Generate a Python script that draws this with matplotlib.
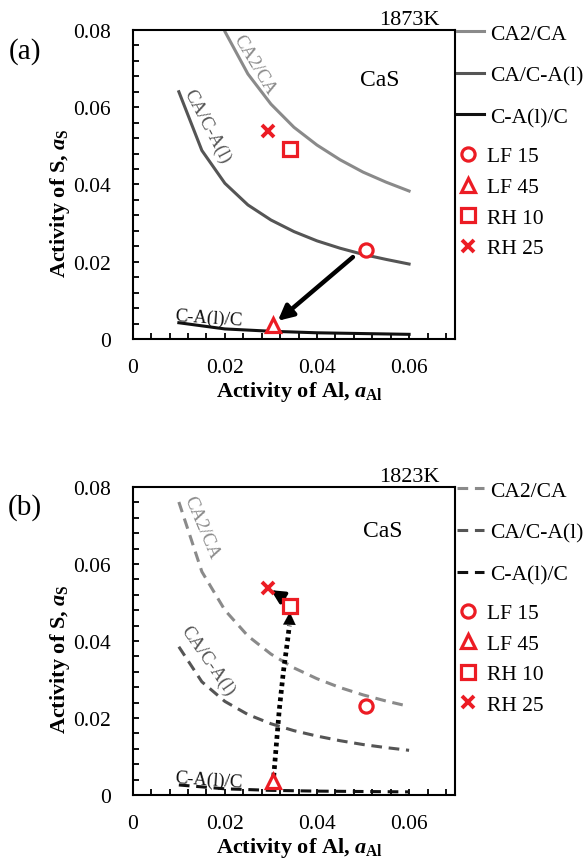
import matplotlib
matplotlib.use("Agg")
import matplotlib.pyplot as plt
from matplotlib.ticker import MultipleLocator, FixedLocator

# fonts: Times-like serif everywhere
plt.rcParams["font.family"] = "Liberation Serif"
plt.rcParams["mathtext.fontset"] = "custom"
plt.rcParams["mathtext.rm"] = "Liberation Serif:bold"
plt.rcParams["mathtext.it"] = "Liberation Serif:italic:bold"
plt.rcParams["mathtext.bf"] = "Liberation Serif:bold"

# 1. Data
x_curve = [0.01, 0.015, 0.02, 0.025, 0.03, 0.035, 0.04, 0.045, 0.05, 0.055, 0.06]
x_low = [0.01, 0.02, 0.03, 0.04, 0.05, 0.06]

# 1873K
ca2_ca_1873 = [0.126, 0.0965, 0.0796, 0.0686, 0.0608, 0.0548, 0.0502, 0.0464, 0.0432, 0.0406, 0.0383]
ca_cal_1873 = [0.064, 0.0488, 0.0403, 0.0347, 0.0308, 0.0278, 0.0254, 0.0235, 0.0219, 0.0206, 0.0194]
cal_c_1873 = [0.0042, 0.0026, 0.0020, 0.0016, 0.0014, 0.0012]

# 1823K
ca2_ca_1823 = [0.0761, 0.058, 0.048, 0.0413, 0.0366, 0.033, 0.0302, 0.0279, 0.026, 0.0244, 0.0230]
ca_cal_1823 = [0.0385, 0.0294, 0.0243, 0.0209, 0.0185, 0.0167, 0.0153, 0.0141, 0.0131, 0.0123, 0.0116]
cal_c_1823 = [0.0026, 0.0016, 0.0012, 0.0010, 0.0009, 0.0008]

# sample points (same in both panels)
sample_names = ["LF 15", "LF 45", "RH 10", "RH 25"]
sample_markers = ["o", "^", "s", "x"]
sample_al = [0.0507, 0.0305, 0.0342, 0.0293]
sample_s = [0.0231, 0.0035, 0.0492, 0.0538]

# path arrows
arrow_a_start = (0.0478, 0.0212)
arrow_a_end = (0.0315, 0.0047)
dotted_path_al = [0.0306, 0.0311, 0.0318, 0.0327, 0.0336, 0.0340]
dotted_path_s = [0.0048, 0.0120, 0.0220, 0.0320, 0.0400, 0.0440]
arrow_b2_start = (0.0343, 0.0500)
arrow_b2_end = (0.0300, 0.0532)

# 2. Styling
red = "#ec1c24"
col_ca2 = "#8a8a8a"
col_ca = "#555555"
col_c = "#111111"

fig = plt.figure(figsize=(5.85, 8.62), dpi=100)
ax_a = fig.add_axes([0.227, 0.6056, 0.551, 0.3585])
ax_b = fig.add_axes([0.227, 0.0766, 0.551, 0.3573])

panels = [
    {"ax": ax_a, "tag": "(a)", "temp": "1873K", "ls": "-",
     "curves": [ca2_ca_1873, ca_cal_1873], "low": cal_c_1873,
     "cas": (0.0537, 0.0673),
     "lab_ca2": (0.0264, 0.0712, -59), "lab_ca": (0.0162, 0.0552, -62),
     "lab_c": (0.0165, 0.0055, -4)},
    {"ax": ax_b, "tag": "(b)", "temp": "1823K", "ls": (0, (3.5, 2.2)),
     "curves": [ca2_ca_1823, ca_cal_1823], "low": cal_c_1823,
     "cas": (0.0543, 0.0686),
     "lab_ca2": (0.0148, 0.0696, -67), "lab_ca": (0.0162, 0.0350, -55),
     "lab_c": (0.0165, 0.0040, -4)},
]

for p in panels:
    ax = p["ax"]
    ls = p["ls"]
    l1, = ax.plot(x_curve, p["curves"][0], color=col_ca2, lw=2.2, ls=ls, label="CA2/CA")
    l2, = ax.plot(x_curve, p["curves"][1], color=col_ca, lw=2.2, ls=ls, label="CA/C-A(l)")
    l3, = ax.plot(x_low, p["low"], color=col_c, lw=2.2, ls=ls, label="C-A(l)/C")

    pts = []
    for name, m, xa, ys in zip(sample_names, sample_markers, sample_al, sample_s):
        if m == "x":
            h, = ax.plot(xa, ys, ls="none", marker=m, ms=8.5, mew=2.8, color=red, label=name, zorder=5)
        else:
            h, = ax.plot(xa, ys, ls="none", marker=m, ms=9.5, mew=2.3, mfc="white",
                         mec=red, label=name, zorder=5)
        pts.append(h)

    ax.set_xlim(0, 0.07)
    ax.set_ylim(0, 0.08)
    ax.xaxis.set_major_locator(FixedLocator([0, 0.02, 0.04, 0.06]))
    ax.yaxis.set_major_locator(MultipleLocator(0.02))
    ax.xaxis.set_minor_locator(MultipleLocator(0.004))
    ax.yaxis.set_minor_locator(MultipleLocator(0.004))
    ax.xaxis.set_major_formatter(lambda v, pos: "0" if v == 0 else f"{v:.2f}")
    ax.yaxis.set_major_formatter(lambda v, pos: "0" if v == 0 else f"{v:.2f}")
    ax.tick_params(which="both", direction="in", top=False, right=False,
                   width=1.3, labelsize=15.5)
    ax.tick_params(axis="x", which="both", pad=14)
    ax.tick_params(axis="y", which="both", pad=16)
    ax.tick_params(which="major", length=4)
    ax.tick_params(which="minor", length=4)
    for s in ax.spines.values():
        s.set_linewidth(1.5)

    ax.set_xlabel(r"Activity of Al, $a_{\mathrm{Al}}$", fontsize=16, fontweight="bold", va="center")
    ax.xaxis.set_label_coords(0.518, -0.168)
    ax.set_ylabel(r"Activity of S, $a_{\mathrm{S}}$", fontsize=16, fontweight="bold", va="center")
    ax.yaxis.set_label_coords(-0.227, 0.443)

    # region and boundary labels
    ax.text(*p["cas"], "CaS", fontsize=17, ha="center", va="center")
    x, y, r = p["lab_ca2"]
    ax.text(x, y, "CA2/CA", fontsize=13.5, color=col_ca2, rotation=r, ha="center", va="center")
    x, y, r = p["lab_ca"]
    ax.text(x, y, "CA/C-A(l)", fontsize=13.5, color=col_ca, rotation=r, ha="center", va="center")
    x, y, r = p["lab_c"]
    ax.text(x, y, "C-A(l)/C", fontsize=13.5, color=col_c, rotation=r, ha="center", va="center")

    ax.text(0.0667, 0.0802, p["temp"], fontsize=16, ha="right", va="bottom", clip_on=False)
    ax.text(-0.335, 0.935, p["tag"], fontsize=21, transform=ax.transAxes, ha="center", va="center")

    # legends outside on the right
    leg1 = ax.legend(handles=[l1, l2, l3], loc="upper left", bbox_to_anchor=(0.98, 1.048),
                     frameon=False, fontsize=15.5, handlelength=1.25, handletextpad=0.28,
                     labelspacing=1.0, borderaxespad=0)
    ax.add_artist(leg1)
    ax.legend(handles=pts, loc="upper left", bbox_to_anchor=(0.98, 0.651),
              frameon=False, fontsize=15.5, handlelength=1.0, handletextpad=0.4,
              labelspacing=0.49, borderaxespad=0)

# arrow (a): LF 15 -> LF 45
ax_a.annotate("", xy=arrow_a_end, xytext=arrow_a_start,
              arrowprops=dict(arrowstyle="-|>,head_length=0.9,head_width=0.45",
                              color="black", lw=3.2, shrinkA=0, shrinkB=0))

# arrows (b): LF 45 -> RH 10 (dotted), RH 10 -> RH 25
ax_b.plot(dotted_path_al, dotted_path_s, color="black", lw=3.4, ls=(0, (0.8, 0.8)))
ax_b.annotate("", xy=(0.0341, 0.0475), xytext=(dotted_path_al[-1], dotted_path_s[-1]),
              arrowprops=dict(arrowstyle="-|>,head_length=0.9,head_width=0.45",
                              color="black", lw=0.1, shrinkA=0, shrinkB=0))
ax_b.annotate("", xy=arrow_b2_end, xytext=arrow_b2_start,
              arrowprops=dict(arrowstyle="-|>,head_length=0.8,head_width=0.4",
                              color="black", lw=2.5, shrinkA=0, shrinkB=0), zorder=4)

fig.savefig("out.png", dpi=100)
